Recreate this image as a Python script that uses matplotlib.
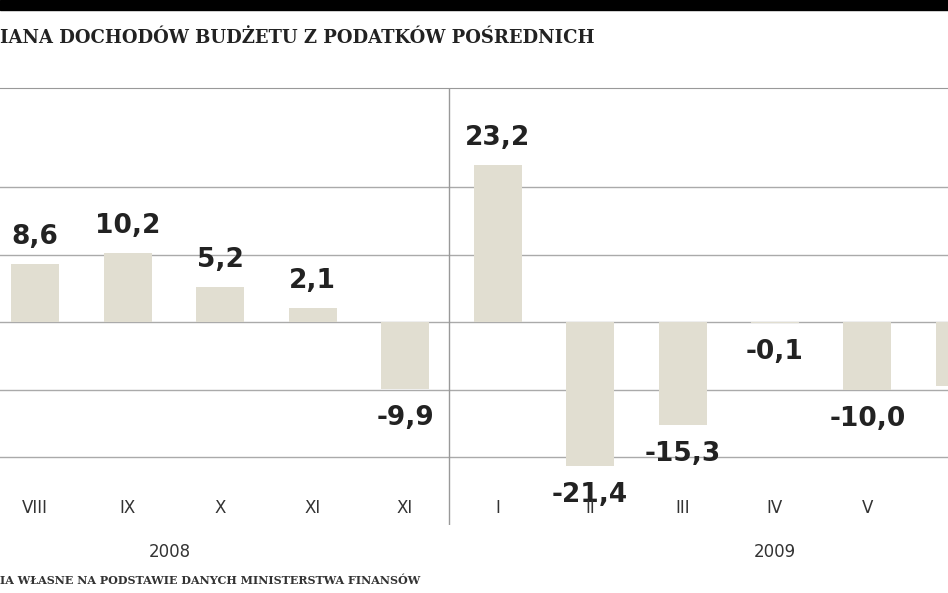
import matplotlib
matplotlib.use("Agg")
import matplotlib.pyplot as plt
from matplotlib.patches import Rectangle

months = ["VIII", "IX", "X", "XI", "XI", "I", "II", "III", "IV", "V", "VI"]
values = [8.6, 10.2, 5.2, 2.1, -9.9, 23.2, -21.4, -15.3, -0.1, -10.0, -9.5]
years = ["2008", "2009"]

W, H = 948, 593
fig = plt.figure(figsize=(W/100, H/100), dpi=100)
fig.patches.append(Rectangle((0, 1-10/H), 1, 10/H, transform=fig.transFigure, color="black"))
top_px, bot_px = 88, 525
ax = fig.add_axes([0, 1-bot_px/H, 1, (bot_px-top_px)/H])
x0, step = 35, 92.5
ax.set_xlim(-x0/step, (W-x0)/step)
ax.set_ylim(-(bot_px-322)/6.75, (322-top_px)/6.75)
for s in ["left", "right", "bottom"]:
    ax.spines[s].set_visible(False)
ax.spines["top"].set_color("#999999")
ax.set_xticks([]); ax.set_yticks([])
for g in [20, 10, 0, -10, -20]:
    ax.axhline(g, color="#aaaaaa", lw=1, zorder=0)
xs = list(range(len(values)))
ax.bar(xs, values, width=48/step, color="#e1ded1", zorder=2)
ax.axvline((449-x0)/step, color="#999999", lw=1)
fam = ["Liberation Sans Narrow", "DejaVu Sans"]
for x, v, m in zip(xs, values, months):
    lab = f"{v:.1f}".replace(".", ",")
    off = 27 if v > 0 else -29
    ax.annotate(lab, (x, max(v, 0) if v > 0 else min(v, 0)), xytext=(0, off), textcoords="offset points" if False else "offset pixels",
                ha="center", va="center", fontsize=19, fontweight="bold", family=fam, color="#222222", zorder=3)
    ax.text(x, -27.6, m, ha="center", va="center", fontsize=12, family=fam, color="#333333")
fig.text(170/W, 1-552/H, years[0], ha="center", va="center", fontsize=12, family=fam, color="#333333")
fig.text(775/W, 1-552/H, years[1], ha="center", va="center", fontsize=12, family=fam, color="#333333")
fig.text(0, 1-38/H, "IANA DOCHODÓW BUDŻETU Z PODATKÓW POŚREDNICH", ha="left", va="center",
         fontsize=13, fontweight="bold", family="DejaVu Serif", color="#222222")
fig.text(0, 1-580/H, "IA WŁASNE NA PODSTAWIE DANYCH MINISTERSTWA FINANSÓW", ha="left", va="center",
         fontsize=8, fontweight="bold", family="DejaVu Serif", color="#333333")
fig.savefig("out.png", dpi=100)
